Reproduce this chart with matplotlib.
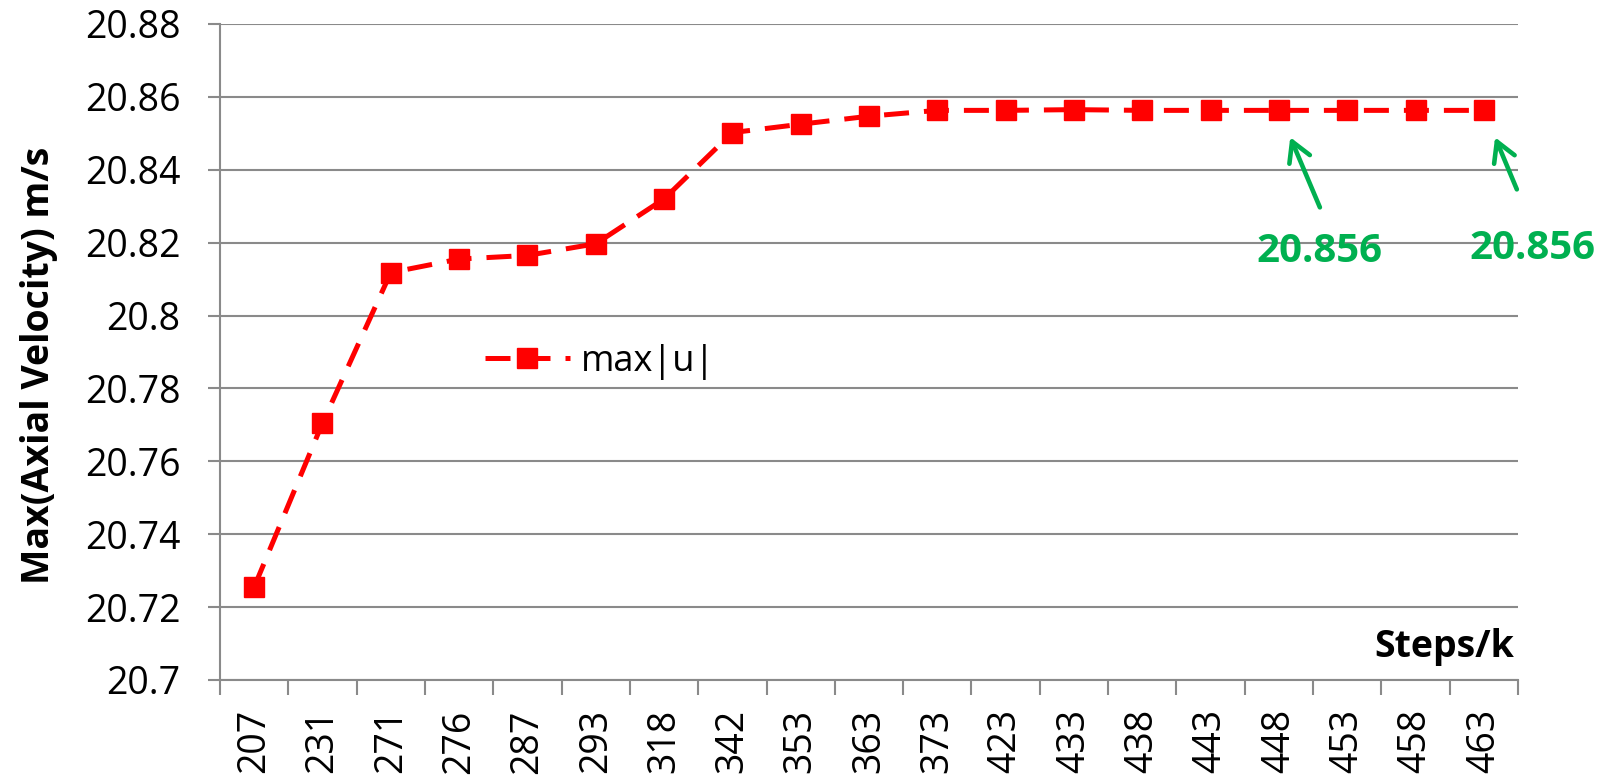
import matplotlib.pyplot as plt
from matplotlib.ticker import FixedLocator, NullFormatter

plt.rcParams['font.family'] = ['Open Sans', 'DejaVu Sans']

steps = ["207", "231", "271", "276", "287", "293", "318", "342", "353", "363",
         "373", "423", "433", "438", "443", "448", "453", "458", "463"]
max_u = [20.7255, 20.7705, 20.8118, 20.8155, 20.8165, 20.8197, 20.8320, 20.8502,
         20.8525, 20.8547, 20.8563, 20.8563, 20.8565, 20.8563, 20.8563, 20.8563,
         20.8563, 20.8563, 20.8563]
yticks = [20.7, 20.72, 20.74, 20.76, 20.78, 20.8, 20.82, 20.84, 20.86, 20.88]
ytick_labels = ["20.7", "20.72", "20.74", "20.76", "20.78", "20.8", "20.82",
                "20.84", "20.86", "20.88"]
marked = [15, 18]
marked_label = "20.856"

grey = '#8a8a8a'
green = '#00b050'

fig = plt.figure(figsize=(16.2, 7.81), dpi=100)
ax = fig.add_axes([220 / 1620, 101 / 781, 1298 / 1620, 656 / 781])

x = list(range(len(steps)))
ax.plot(x, max_u, color='red', lw=3.6, linestyle=(0, (5, 3)),
        marker='s', markersize=14, label='max|u|', zorder=3)

ax.set_xlim(-0.5, len(steps) - 0.5)
ax.set_ylim(20.7, 20.88)
ax.set_yticks(yticks)
ax.set_yticklabels(ytick_labels, fontsize=27)
ax.set_xticks(x)
ax.set_xticklabels(steps, rotation=90, fontsize=27)
ax.xaxis.set_minor_locator(FixedLocator([i - 0.5 for i in range(len(steps) + 1)]))
ax.xaxis.set_minor_formatter(NullFormatter())
ax.tick_params(axis='x', which='major', length=0, pad=21)
ax.tick_params(axis='x', which='minor', length=11, width=1.5, color=grey)
ax.tick_params(axis='y', length=8.6, width=1.5, color=grey, pad=20)

ax.grid(axis='y', color=grey, lw=1.5)
ax.set_axisbelow(True)
for s in ['top', 'right']:
    ax.spines[s].set_visible(False)
for s in ['left', 'bottom']:
    ax.spines[s].set_color(grey)
    ax.spines[s].set_linewidth(1.5)

ax.set_ylabel("Max(Axial Velocity) m/s", fontsize=27, fontweight='bold')
ax.yaxis.set_label_coords(-0.125, 0.48)
ax.text(0.997, 0.05, "Steps/k", transform=ax.transAxes, ha='right', va='center',
        fontsize=27, fontweight='bold')

ax.legend(loc='center left', bbox_to_anchor=(0.204, 0.485), frameon=False,
          fontsize=26, handlelength=2.35, handletextpad=0.3, borderpad=0,
          borderaxespad=0)

# arrow tail and label offsets (pixels) from the marked point
offsets = {15: ((41, -97), (41, -141)), 18: ((33, -79), (49, -138))}
for i in marked:
    tail, lab = offsets[i]
    ax.annotate('', xy=(x[i], max_u[i]), xytext=tail, textcoords='offset pixels',
                arrowprops=dict(arrowstyle='->,head_length=1.4,head_width=0.8',
                                color=green, lw=3.3, shrinkA=0, shrinkB=21))
    ax.annotate(marked_label, xy=(x[i], max_u[i]), xytext=lab,
                textcoords='offset pixels', ha='center', va='center',
                fontsize=29, fontweight='bold', color=green, annotation_clip=False)

plt.savefig("out.png", dpi=100)
